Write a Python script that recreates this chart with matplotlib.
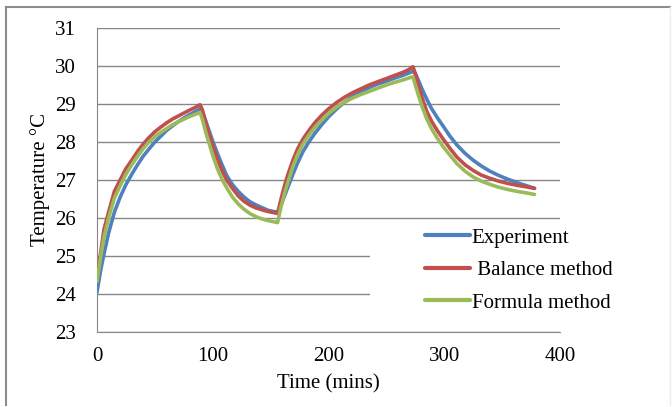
import matplotlib.pyplot as plt
from matplotlib.lines import Line2D
from matplotlib.patches import Rectangle

# Time in minutes
tempo = [0, 3, 6, 10, 15, 20, 25, 30, 35, 40, 45, 50, 55, 60, 65, 70, 75, 80, 85, 89,
         91, 94, 97, 100, 104, 108, 112, 117, 122, 127, 132, 137, 142, 148, 156,
         159, 162, 165, 169, 173, 178, 183, 188, 194, 200, 207, 214, 221, 228, 235,
         242, 250, 257, 264, 269, 273,
         275, 278, 281, 285, 289, 294, 299, 305, 311, 318, 325, 332, 339, 347, 355,
         363, 371, 378]

experimento = [24.05, 24.6, 25.05, 25.6, 26.15, 26.55, 26.88, 27.15, 27.4, 27.63,
               27.82, 28.0, 28.15, 28.3, 28.42, 28.53, 28.63, 28.72, 28.8, 28.87,
               28.8, 28.55, 28.28, 28.02, 27.7, 27.4, 27.12, 26.88, 26.7, 26.55,
               26.43, 26.35, 26.28, 26.2, 26.15,
               26.35, 26.58, 26.82, 27.13, 27.43, 27.75, 28.0, 28.22, 28.45, 28.66,
               28.87, 29.05, 29.2, 29.32, 29.43, 29.52, 29.6, 29.68, 29.75, 29.81, 29.86,
               29.8, 29.6, 29.38, 29.12, 28.88, 28.64, 28.42, 28.15, 27.92, 27.7,
               27.52, 27.37, 27.24, 27.12, 27.02, 26.93, 26.85, 26.78]

balanco = [24.4, 25.05, 25.7, 26.15, 26.7, 27.0, 27.3, 27.52, 27.75, 27.95,
           28.12, 28.27, 28.39, 28.5, 28.6, 28.68, 28.76, 28.84, 28.91, 28.98,
           28.85, 28.5, 28.18, 27.9, 27.55, 27.25, 27.0, 26.78, 26.58, 26.44,
           26.34, 26.27, 26.22, 26.17, 26.12,
           26.5, 26.85, 27.15, 27.5, 27.8, 28.08, 28.3, 28.5, 28.7, 28.87,
           29.04, 29.18, 29.3, 29.4, 29.5, 29.58, 29.67, 29.75, 29.83, 29.9, 29.98,
           29.8, 29.45, 29.15, 28.8, 28.55, 28.3, 28.08, 27.83, 27.6, 27.4,
           27.25, 27.13, 27.05, 26.97, 26.91, 26.86, 26.82, 26.78]

formula = [24.33, 24.95, 25.5, 26.0, 26.52, 26.85, 27.15, 27.4, 27.62, 27.83,
           28.0, 28.14, 28.25, 28.35, 28.45, 28.53, 28.6, 28.67, 28.73, 28.78,
           28.6, 28.25, 27.95, 27.65, 27.3, 27.02, 26.8, 26.55, 26.37, 26.23,
           26.12, 26.04, 25.98, 25.93, 25.88,
           26.3, 26.65, 26.95, 27.33, 27.65, 27.95, 28.18, 28.38, 28.57, 28.75,
           28.92, 29.05, 29.16, 29.25, 29.33, 29.41, 29.5, 29.57, 29.63, 29.68, 29.72,
           29.5, 29.2, 28.92, 28.6, 28.35, 28.1, 27.88, 27.65, 27.43, 27.23,
           27.08, 26.97, 26.89, 26.81, 26.75, 26.7, 26.66, 26.62]

nomes = ['Experiment', ' Balance method', 'Formula method']
cores = ['#4F81BD', '#C0504D', '#9BBB59']

plt.rcParams['font.family'] = ['Liberation Serif', 'DejaVu Serif']

W, H = 672, 407
fig = plt.figure(figsize=(W / 100, H / 100), dpi=100)
ax = fig.add_axes([97 / W, 1 - 332 / H, 463 / W, 304 / H])

# Moldura da figura
fig.add_artist(Line2D([6 / W, 6 / W], [2 / H, 1 - 7 / H], transform=fig.transFigure,
                      color='#8c8c8c', lw=1.5))
fig.add_artist(Line2D([6 / W, 670 / W], [1 - 7 / H, 1 - 7 / H], transform=fig.transFigure,
                      color='#8c8c8c', lw=1.5))
fig.add_artist(Line2D([670 / W, 670 / W], [2 / H, 1 - 7 / H], transform=fig.transFigure,
                      color='#eeeeee', lw=1))

for serie, cor, nome in zip([experimento, balanco, formula], cores, nomes):
    ax.plot(tempo, serie, color=cor, lw=2.6, label=nome,
            solid_joinstyle='round', solid_capstyle='round', zorder=3)

ax.set_xlim(0, 400)
ax.set_ylim(23, 31)
ax.set_xticks([0, 100, 200, 300, 400])
ax.set_yticks(range(23, 32))
ax.tick_params(length=0, labelsize=15, pad=15)
ax.tick_params(axis='x', pad=11)
ax.grid(axis='y', color='#868686', lw=1)
ax.set_axisbelow(True)
for lado in ['top', 'right']:
    ax.spines[lado].set_visible(False)
for lado in ['left', 'bottom']:
    ax.spines[lado].set_color('#868686')

ax.set_xlabel('Time (mins)', fontsize=15, labelpad=6)
ax.set_ylabel('Temperature \u00b0C', fontsize=15, labelpad=4)

# Fundo branco da legenda (cobre as linhas de grade)
ax.add_patch(Rectangle((370 / W, 1 - 326 / H), 290 / W, 104 / H,
                       transform=fig.transFigure, facecolor='white',
                       edgecolor='none', zorder=1.5, clip_on=False))

leg = fig.legend(loc='upper left', bbox_to_anchor=(425 / W, 1 - 228 / H),
                 fontsize=15, frameon=False, handlelength=2.15, handletextpad=0.1,
                 borderpad=0, labelspacing=0.62, borderaxespad=0)
for h in leg.get_lines():
    h.set_linewidth(3)

fig.savefig('out.png', dpi=100)
plt.close()
